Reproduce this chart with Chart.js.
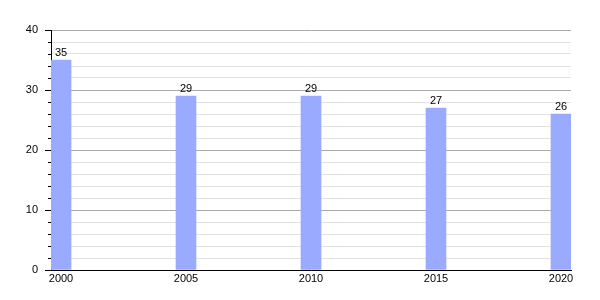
<!DOCTYPE html>
<html>
<head>
<meta charset="utf-8">
<script src="https://cdn.jsdelivr.net/npm/chart.js@4"></script>
<style>
  html, body { margin: 0; padding: 0; background: #fff; }
  #box { width: 600px; height: 300px; }
</style>
</head>
<body>
<div id="box"><canvas id="myChart"></canvas></div>
<script>
const years = [2000, 2005, 2010, 2015, 2020];
const values = [35, 29, 29, 27, 26];
const yTicks = [0, 10, 20, 30, 40];

// подписи над столбиками
const barLabels = {
    id: 'barLabels',
    afterDatasetsDraw(chart) {
        const ctx = chart.ctx;
        const meta = chart.getDatasetMeta(0);
        ctx.save();
        ctx.font = '11px "Liberation Sans", Arial, sans-serif';
        ctx.fillStyle = '#000';
        ctx.textAlign = 'center';
        ctx.textBaseline = 'bottom';
        meta.data.forEach((bar, i) => {
            ctx.fillText(values[i], bar.x, bar.y - 2);
        });
        ctx.restore();
    }
};

// короткие засечки на оси Y
const yTickMarks = {
    id: 'yTickMarks',
    afterDraw(chart) {
        const ctx = chart.ctx;
        const y = chart.scales.y;
        ctx.save();
        ctx.strokeStyle = '#000';
        ctx.lineWidth = 1;
        for (let v = 0; v <= 40; v += 2) {
            const py = Math.round(y.getPixelForValue(v)) + 0.5;
            const len = v % 10 === 0 ? 6 : 3;
            ctx.beginPath();
            ctx.moveTo(y.right - len, py);
            ctx.lineTo(y.right, py);
            ctx.stroke();
        }
        ctx.restore();
    }
};

const ctx = document.getElementById('myChart').getContext('2d');
new Chart(ctx, {
    type: 'bar',
    data: {
        datasets: [{
            data: years.map((yr, i) => ({ x: yr, y: values[i] })),
            backgroundColor: '#99AAFF',
            barThickness: 20
        }]
    },
    options: {
        responsive: true,
        maintainAspectRatio: false,
        animation: false,
        layout: { padding: { top: 30, right: 29, left: 0, bottom: 0 } },
        plugins: { legend: { display: false }, tooltip: { enabled: false } },
        scales: {
            x: {
                type: 'linear',
                offset: false,
                min: 1999.6,
                max: 2020.4,
                afterBuildTicks: s => { s.ticks = years.map(v => ({ value: v })); },
                afterFit: s => { s.height = 30; },
                grid: { display: false, drawTicks: false, offset: false },
                border: { color: '#000', width: 1 },
                ticks: {
                    color: '#000',
                    font: { family: '"Liberation Sans", Arial, sans-serif', size: 11 },
                    padding: 2,
                    maxRotation: 0,
                    callback: v => String(v)
                }
            },
            y: {
                min: 0,
                max: 40,
                afterBuildTicks: s => {
                    const t = [];
                    for (let v = 0; v <= 40; v += 2) t.push({ value: v });
                    s.ticks = t;
                },
                afterFit: s => { s.width = 51; },
                grid: {
                    drawTicks: false,
                    color: c => (c.tick && c.tick.value % 10 === 0) ? '#aaaaaa' : '#e2e2e2'
                },
                border: { color: '#000', width: 1 },
                ticks: {
                    color: '#000',
                    font: { family: '"Liberation Sans", Arial, sans-serif', size: 11 },
                    padding: 13,
                    autoSkip: false,
                    callback: v => yTicks.includes(v) ? String(v) : ''
                }
            }
        }
    },
    plugins: [barLabels, yTickMarks]
});
</script>
</body>
</html>
